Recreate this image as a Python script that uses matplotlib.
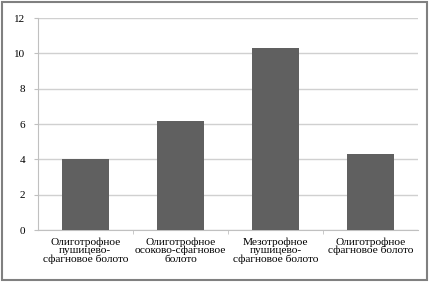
import matplotlib.pyplot as plt
from matplotlib.patches import Rectangle

categories = [
    "Олиготрофное\nпушицево-\nсфагновое болото",
    "Олиготрофное\nосоково-сфагновое\nболото",
    "Мезотрофное\nпушицево-\nсфагновое болото",
    "Олиготрофное\nсфагновое болото",
]
values = [4.0, 6.2, 10.3, 4.3]
yticks = [0, 2, 4, 6, 8, 10, 12]

plt.rcParams['font.family'] = ['Liberation Serif', 'DejaVu Serif']

fig = plt.figure(figsize=(4.3, 2.82), dpi=100)
ax = fig.add_axes([0.088, 0.184, 0.884, 0.752])

x = list(range(len(values)))
ax.bar(x, values, width=0.5, color='#606060', zorder=3)

ax.set_xlim(-0.5, len(values) - 0.5)
ax.set_ylim(0, 12)
ax.set_yticks(yticks)
ax.set_yticklabels([str(t) for t in yticks], fontsize=8)
ax.set_xticks(x)
ax.set_xticklabels(categories, fontsize=8.2, linespacing=0.92)
ax.tick_params(axis='x', length=0, pad=5)
ax.tick_params(axis='y', length=3, color='#c0c0c0', pad=6)
ax.set_xticks([i + 0.5 for i in range(len(values) - 1)], minor=True)
ax.tick_params(axis='x', which='minor', length=3, color='#c0c0c0')

ax.yaxis.grid(True, color='#d0d0d0', linewidth=1, zorder=0)
for side in ['top', 'right']:
    ax.spines[side].set_visible(False)
for side in ['left', 'bottom']:
    ax.spines[side].set_color('#c0c0c0')

# frame around the whole chart
fig.patches.append(Rectangle((0.004, 0.006), 0.99, 0.988, transform=fig.transFigure,
                             fill=False, edgecolor='#808080', linewidth=1.5))

fig.savefig('out.png', dpi=100)
